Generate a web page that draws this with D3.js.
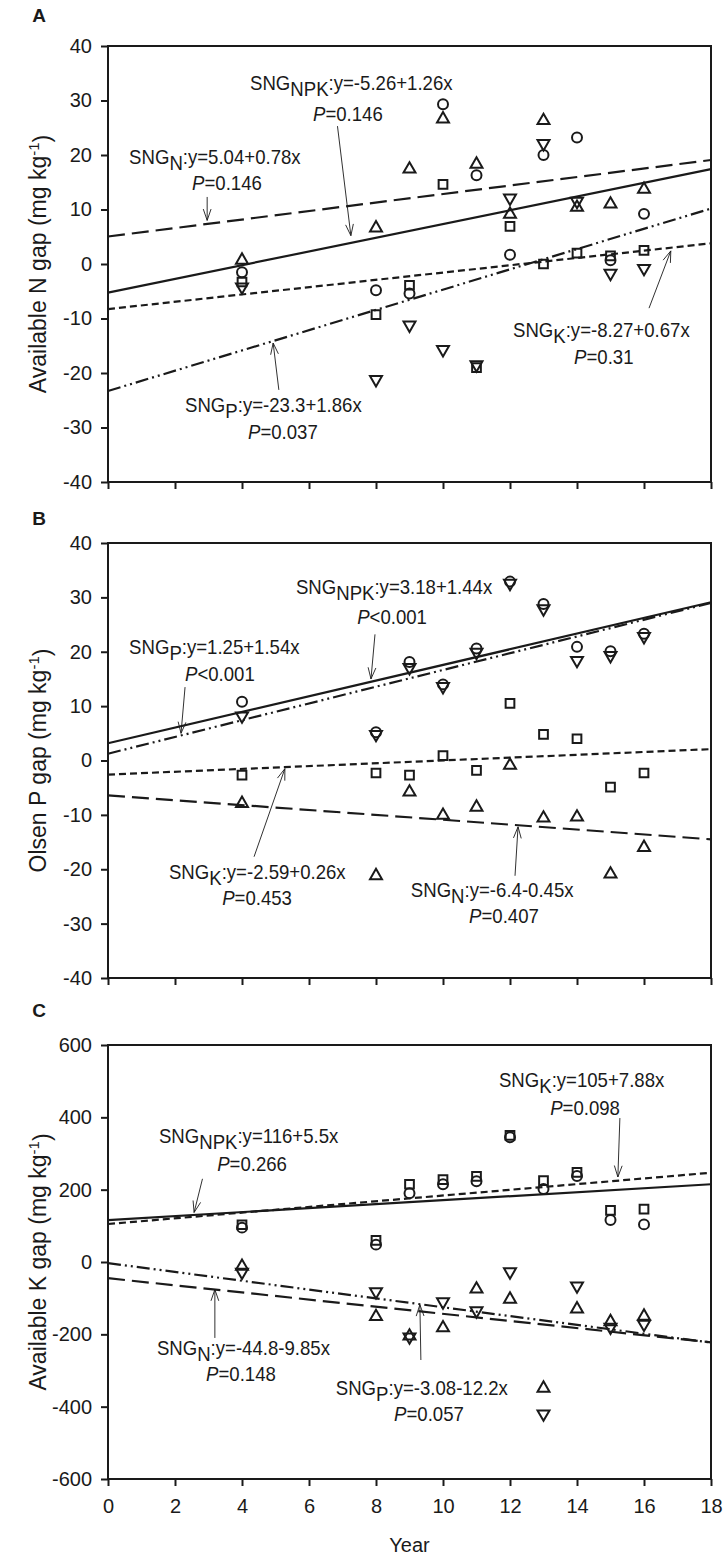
<!DOCTYPE html>
<html>
<head>
<meta charset="utf-8">
<script src="https://cdn.jsdelivr.net/npm/d3@7"></script>
<style>
  html, body { margin: 0; padding: 0; background: #fff; }
  svg { display: block; }
  text { font-family: "Liberation Sans", Arial, sans-serif; fill: #1a1a1a; }
</style>
</head>
<body>
<svg id="chart" width="727" height="1559"></svg>
<script>
// ---------- data ----------
const years = [4, 8, 9, 10, 11, 12, 13, 14, 15, 16];
const xTicks = [0, 2, 4, 6, 8, 10, 12, 14, 16, 18];
const treatments = ["NPK", "N", "P", "K"];

// Panel A: Available N gap
const nTicks = [-40, -30, -20, -10, 0, 10, 20, 30, 40];
const nGapNPK = [-1.5, -4.8, -5.4, 29.3, 16.3, 1.7, 20.0, 23.2, 0.7, 9.2];
const nGapN   = [0.7, 6.6, 17.4, 26.6, 18.3, 9.1, 26.3, 10.4, 11.0, 13.7];
const nGapP   = [-4.2, -21.2, -11.2, -15.7, -18.5, 12.1, 22.1, 11.5, -1.7, -0.8];
const nGapK   = [-3.3, -9.3, -3.9, 14.6, -19.0, 6.9, 0.0, 2.0, 1.5, 2.5];
const nFitA   = [-5.26, 5.04, -23.3, -8.27];
const nFitB   = [1.26, 0.78, 1.86, 0.67];
const nFitTxt = ["y=-5.26+1.26x", "y=5.04+0.78x", "y=-23.3+1.86x", "y=-8.27+0.67x"];
const nFitP   = ["=0.146", "=0.146", "=0.037", "=0.31"];

// Panel B: Olsen P gap
const pTicks = [-40, -30, -20, -10, 0, 10, 20, 30, 40];
const pGapNPK = [10.8, 5.2, 18.1, 14.0, 20.6, 32.9, 28.8, 20.9, 20.1, 23.3];
const pGapN   = [-7.9, -21.2, -5.8, -10.1, -8.6, -0.9, -10.6, -10.4, -20.9, -16.0];
const pGapP   = [8.2, 4.8, 17.1, 13.6, 19.9, 32.6, 27.9, 18.4, 19.3, 22.8];
const pGapK   = [-2.7, -2.3, -2.7, 0.9, -1.8, 10.5, 4.8, 4.0, -4.9, -2.3];
const pFitA   = [3.18, -6.4, 1.25, -2.59];
const pFitB   = [1.44, -0.45, 1.54, 0.26];
const pFitTxt = ["y=3.18+1.44x", "y=-6.4-0.45x", "y=1.25+1.54x", "y=-2.59+0.26x"];
const pFitP   = ["<0.001", "=0.407", "<0.001", "=0.453"];

// Panel C: Available K gap
const kTicks = [-600, -400, -200, 0, 200, 400, 600];
const kGapNPK = [95, 48, 190, 215, 223, 345, 202, 238, 116, 104];
const kGapN   = [-12, -151, -205, -182, -75, -103, -349, -130, -165, -150];
const kGapP   = [-28, -82, -207, -110, -135, -27, -420, -66, -180, -172];
const kGapK   = [103, 60, 215, 228, 237, 350, 225, 248, 143, 146];
const kFitA   = [116, -44.8, -3.08, 105];
const kFitB   = [5.5, -9.85, -12.2, 7.88];
const kFitTxt = ["y=116+5.5x", "y=-44.8-9.85x", "y=-3.08-12.2x", "y=105+7.88x"];
const kFitP   = ["=0.266", "=0.148", "=0.057", "=0.098"];

// ---------- layout (positions / styles) ----------
const X0 = 108, X1 = 711;
const panelLayout = [
  { letter: "A", letterY: 15, top: 46,   bottom: 482,  domain: [-40, 40],   ticks: nTicks, title: "Available N gap",
    series: [nGapNPK, nGapN, nGapP, nGapK], fa: nFitA, fb: nFitB, ft: nFitTxt, fp: nFitP, showX: false,
    // annotation placement in data units: [textX, textY, pX, pY, arrowX1, arrowY1, arrowX2, arrowY2]
    ann: [[4.24, 33.2, 7.16, 27.6, 6.85, 25.3, 7.25, 5.2],
          [0.63, 19.6, 3.55, 14.9, 2.96, 12.3, 2.96, 8.0],
          [2.30, -25.9, 5.22, -30.8, 5.10, -23.1, 4.93, -14.5],
          [12.09, -12.1, 14.8, -17.1, 16.15, -8.1, 16.8, 2.4]] },
  { letter: "B", letterY: 518, top: 543,  bottom: 978,  domain: [-40, 40],   ticks: pTicks, title: "Olsen P gap",
    series: [pGapNPK, pGapN, pGapP, pGapK], fa: pFitA, fb: pFitB, ft: pFitTxt, fp: pFitP, showX: false,
    ann: [[5.61, 32.0, 8.48, 26.4, 7.97, 23.2, 7.85, 15.0],
          [9.04, -23.8, 11.82, -28.6, 12.15, -21.2, 12.24, -12.2],
          [0.63, 20.9, 3.34, 16.0, 2.30, 13.5, 2.18, 5.0],
          [1.82, -20.5, 4.45, -25.3, 4.36, -17.7, 5.28, -1.5]] },
  { letter: "C", letterY: 1010, top: 1045, bottom: 1479, domain: [-600, 600], ticks: kTicks, title: "Available K gap",
    series: [kGapNPK, kGapN, kGapP, kGapK], fa: kFitA, fb: kFitB, ft: kFitTxt, fp: kFitP, showX: true,
    ann: [[1.52, 348, 4.3, 272, 2.82, 230, 2.57, 137],
          [1.46, -238, 3.97, -310, 3.19, -210, 3.19, -76],
          [6.8, -348, 9.58, -420, 9.34, -271, 9.31, -118],
          [11.67, 502, 14.24, 425, 15.28, 398, 15.22, 235]] }
];
const lineDash = ["none", "17,7", "13,4,2,4,2,4", "7,4"]; // NPK, N, P, K
const markerShapes = ["circle", "triup", "tridown", "square"];
const TICK_FS = 20, ANN_FS = 20, ANN_SX = 0.93, TITLE_FS = 23;

const svg = d3.select("#chart");
svg.append("rect").attr("width", 727).attr("height", 1559).attr("fill", "#fff");

const x = d3.scaleLinear().domain([0, 18]).range([X0, X1]);
const fmt = d => String(d).replace("\u2212", "-");

function scaledText(parent, px, py, anchor) {
  return parent.append("g").attr("transform", `translate(${px},${py}) scale(${ANN_SX},1)`)
    .append("text").attr("dy", "0.35em").attr("text-anchor", anchor).attr("font-size", ANN_FS);
}

panelLayout.forEach(p => {
  const y = d3.scaleLinear().domain(p.domain).range([p.bottom, p.top]);
  const g = svg.append("g");

  // panel letter
  svg.append("text").attr("x", 39).attr("y", p.letterY).attr("dy", "0.35em")
    .attr("text-anchor", "middle").attr("font-weight", "bold").attr("font-size", 19).text(p.letter);

  // y axis
  const yAxis = d3.axisLeft(y).tickValues(p.ticks).tickSize(7).tickPadding(9).tickFormat(fmt);
  const ya = g.append("g").attr("transform", `translate(${X0},0)`).call(yAxis);
  ya.select(".domain").remove();
  ya.selectAll("line").attr("stroke", "#1a1a1a").attr("stroke-width", 2);
  ya.selectAll("text").attr("font-size", TICK_FS).attr("font-family", "Liberation Sans, Arial, sans-serif").attr("fill", "#1a1a1a");

  // x axis
  const xAxis = d3.axisBottom(x).tickValues(xTicks).tickSize(7).tickPadding(13)
    .tickFormat(p.showX ? fmt : () => "");
  const xa = g.append("g").attr("transform", `translate(0,${p.bottom})`).call(xAxis);
  xa.select(".domain").remove();
  xa.selectAll("line").attr("stroke", "#1a1a1a").attr("stroke-width", 2);
  xa.selectAll("text").attr("font-size", TICK_FS).attr("font-family", "Liberation Sans, Arial, sans-serif").attr("fill", "#1a1a1a");

  // frame
  g.append("rect").attr("x", X0).attr("y", p.top).attr("width", X1 - X0).attr("height", p.bottom - p.top)
    .attr("fill", "none").attr("stroke", "#1a1a1a").attr("stroke-width", 2);

  // y title
  const yt = svg.append("text").attr("transform", `translate(38,${(p.top + p.bottom) / 2}) rotate(-90)`)
    .attr("text-anchor", "middle").attr("dy", "0.35em").attr("font-size", TITLE_FS);
  yt.append("tspan").text(p.title + " (mg kg");
  yt.append("tspan").attr("dy", "-0.5em").attr("font-size", 15).text("-1");
  yt.append("tspan").attr("dy", "0.5em").text(")");

  // regression lines
  treatments.forEach((t, i) => {
    const f = v => p.fa[i] + p.fb[i] * v;
    g.append("line").attr("x1", x(0)).attr("y1", y(f(0))).attr("x2", x(18)).attr("y2", y(f(18)))
      .attr("stroke", "#1a1a1a").attr("stroke-width", 2.2)
      .attr("stroke-dasharray", lineDash[i]);
  });

  // markers
  treatments.forEach((t, i) => {
    const shape = markerShapes[i];
    p.series[i].forEach((v, j) => {
      let path, rot = 0;
      if (shape === "circle") path = d3.symbol(d3.symbolCircle, 78)();
      else if (shape === "triup") path = d3.symbol(d3.symbolTriangle, 62)();
      else if (shape === "tridown") { path = d3.symbol(d3.symbolTriangle, 62)(); rot = 180; }
      else path = d3.symbol(d3.symbolSquare, 76)();
      g.append("path").attr("d", path)
        .attr("transform", `translate(${x(years[j])},${y(v)}) rotate(${rot})`)
        .attr("fill", "none").attr("stroke", "#1a1a1a").attr("stroke-width", 2);
    });
  });

  // annotations
  treatments.forEach((t, i) => {
    const a = p.ann[i];
    const tx = scaledText(g, x(a[0]), y(a[1]), "start");
    tx.append("tspan").text("SNG");
    tx.append("tspan").attr("dy", "0.3em").text(t);
    tx.append("tspan").attr("dy", "-0.3em").text(":" + p.ft[i]);
    const pt = scaledText(g, x(a[2]), y(a[3]), "middle");
    pt.append("tspan").attr("font-style", "italic").text("P");
    pt.append("tspan").text(p.fp[i]);
    // arrow
    const x1 = x(a[4]), y1 = y(a[5]), x2 = x(a[6]), y2 = y(a[7]);
    const ang = Math.atan2(y2 - y1, x2 - x1);
    const L = 12, W = 0.33;
    const h1 = [x2 - L * Math.cos(ang - W), y2 - L * Math.sin(ang - W)];
    const h2 = [x2 - L * Math.cos(ang + W), y2 - L * Math.sin(ang + W)];
    g.append("path")
      .attr("d", `M${x1},${y1}L${x2},${y2}M${h1[0]},${h1[1]}L${x2},${y2}L${h2[0]},${h2[1]}`)
      .attr("fill", "none").attr("stroke", "#1a1a1a").attr("stroke-width", 0.9);
  });
});

// x title
svg.append("text").attr("x", (X0 + X1) / 2).attr("y", 1545).attr("dy", "0.35em")
  .attr("text-anchor", "middle").attr("font-size", TICK_FS).text("Year");
</script>
</body>
</html>
